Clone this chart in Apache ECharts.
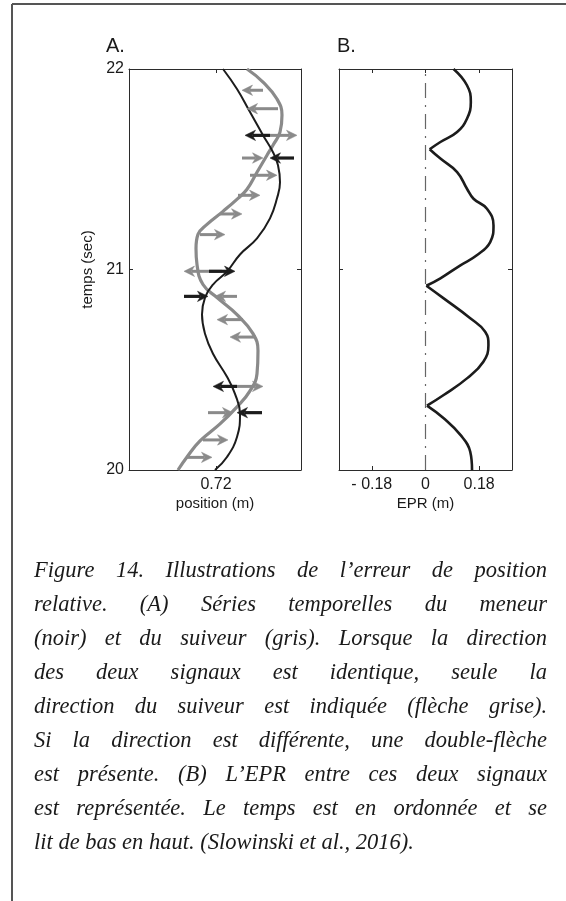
<!DOCTYPE html>
<html><head><meta charset="utf-8">
<script src="https://cdn.jsdelivr.net/npm/echarts@6/dist/echarts.min.js"></script>
<style>html,body{margin:0;padding:0;background:#fff}#chart{width:566px;height:901px}</style>
</head><body><div id="chart"></div>
<script>
// ---- Panel A: leader (black) and follower (gray) positions vs time ----
const leaderTime = [20.0,20.065,20.165,20.28,20.38,20.465,20.58,20.68,20.775,20.86,20.925,20.99,21.075,21.155,21.255,21.355,21.435,21.52,21.585,21.67,21.785,21.9,22.0];
const leaderPos  = [0.719,0.731,0.741,0.744,0.739,0.731,0.717,0.709,0.706,0.709,0.717,0.731,0.744,0.761,0.774,0.781,0.784,0.782,0.777,0.767,0.754,0.741,0.727];
const followerTime = [20.0,20.065,20.145,20.23,20.315,20.395,20.48,20.595,20.68,20.775,20.86,20.925,21.025,21.105,21.175,21.225,21.29,21.355,21.4,21.485,21.57,21.62,21.685,21.77,21.85,21.935,22.0];
const followerPos  = [0.682,0.691,0.704,0.724,0.741,0.754,0.761,0.762,0.757,0.741,0.721,0.707,0.701,0.700,0.702,0.711,0.727,0.742,0.751,0.761,0.771,0.777,0.784,0.786,0.781,0.767,0.751];
// direction arrows: time, start position, end position (head)
const grayArrowTime = [20.063,20.150,20.286,20.417,20.663,20.750,20.866,20.991,21.174,21.277,21.370,21.470,21.556,21.669,21.802,21.894];
const grayArrowFrom = [0.691,0.707,0.712,0.741,0.760,0.747,0.741,0.726,0.704,0.724,0.742,0.754,0.746,0.774,0.782,0.767];
const grayArrowTo   = [0.716,0.732,0.737,0.767,0.734,0.721,0.719,0.688,0.729,0.746,0.764,0.781,0.767,0.801,0.751,0.746];
const blackArrowTime = [20.286,20.417,20.866,20.991,21.556,21.669];
const blackArrowFrom = [0.766,0.741,0.688,0.713,0.798,0.774];
const blackArrowTo   = [0.741,0.717,0.712,0.739,0.774,0.749];
// ---- Panel B: EPR vs time ----
const eprTime  = [20.0,20.091,20.175,20.258,20.321,20.374,20.457,20.54,20.623,20.69,20.757,20.856,20.919,20.956,21.021,21.071,21.137,21.22,21.303,21.353,21.403,21.486,21.553,21.6,21.636,21.686,21.752,21.835,21.919,22.0];
const eprValue = [0.156,0.150,0.117,0.061,0.005,0.061,0.139,0.194,0.211,0.2,0.15,0.061,0.003,0.05,0.117,0.172,0.217,0.228,0.206,0.161,0.139,0.106,0.05,0.014,0.05,0.106,0.139,0.152,0.139,0.094];
const zeroLineTime = [20, 22];
const zeroLineValue = [0, 0];
// ---- ticks / labels ----
const timeTicks = [20,21,22];
const posTicks = [0.72];
const eprTicks = [-0.18,0,0.18];
const eprTickLabels = ['- 0.18','0','0.18'];
const captionLines = [
  "Figure 14. Illustrations de l\u2019erreur de position",
  "relative. (A) S\u00e9ries temporelles du meneur",
  "(noir) et du suiveur (gris). Lorsque la direction",
  "des deux signaux est identique, seule la",
  "direction du suiveur est indiqu\u00e9e (fl\u00e8che grise).",
  "Si la direction est diff\u00e9rente, une double-fl\u00e8che",
  "est pr\u00e9sente. (B) L\u2019EPR entre ces deux signaux",
  "est repr\u00e9sent\u00e9e. Le temps est en ordonn\u00e9e et se",
  "lit de bas en haut. (Slowinski et al., 2016)."
];

const AX = '#2b2b2b', BLACK = '#1c1c1c', GRAY = '#8a8a8a';
const SANS = '"Liberation Sans", Arial, sans-serif';

function arrowRender(color, lw, headLen, headHalf) {
  return function (params, api) {
    const t = api.value(0), a = api.value(1), b = api.value(2);
    const p0 = api.coord([a, t]), p1 = api.coord([b, t]);
    const dir = p1[0] >= p0[0] ? 1 : -1;
    const bx = p1[0] - dir * headLen;
    const nx = p1[0] - dir * headLen * 0.7;
    return {type: 'group', children: [
      {type: 'line', shape: {x1: p0[0], y1: p0[1], x2: nx, y2: p1[1]}, style: {stroke: color, lineWidth: lw}},
      {type: 'polygon', shape: {points: [[p1[0], p1[1]], [bx, p1[1] - headHalf], [nx, p1[1]], [bx, p1[1] + headHalf]]},
       style: {fill: color, stroke: color, lineWidth: 0.5}}
    ]};
  };
}

const tickStyle = {show: true, inside: true, length: 4, lineStyle: {color: AX, width: 1}};
const lineStyleAx = {show: true, onZero: false, lineStyle: {color: AX, width: 1}};
const labelFont = {color: '#1a1a1a', fontSize: 16, fontFamily: SANS};
const nameFont = {color: '#1a1a1a', fontSize: 15, fontFamily: SANS};

const xAxes = [
  {gridIndex: 0, type: 'value', position: 'bottom', min: 0.633, max: 0.805,
   axisLine: lineStyleAx, axisTick: Object.assign({customValues: posTicks}, tickStyle),
   axisLabel: Object.assign({customValues: posTicks, formatter: v => v.toFixed(2), margin: 7}, labelFont),
   splitLine: {show: false}, name: 'position (m)', nameLocation: 'middle', nameGap: 26, nameTextStyle: nameFont},
  {gridIndex: 0, type: 'value', position: 'top', min: 0.633, max: 0.805,
   axisLine: lineStyleAx, axisTick: Object.assign({customValues: posTicks}, tickStyle),
   axisLabel: {show: false}, splitLine: {show: false}},
  {gridIndex: 1, type: 'value', position: 'bottom', min: -0.29, max: 0.29,
   axisLine: lineStyleAx, axisTick: Object.assign({customValues: eprTicks}, tickStyle),
   axisLabel: Object.assign({customValues: eprTicks,
     formatter: v => eprTickLabels[eprTicks.findIndex(e => Math.abs(e - v) < 1e-9)], margin: 7}, labelFont),
   splitLine: {show: false}, name: 'EPR (m)', nameLocation: 'middle', nameGap: 26, nameTextStyle: nameFont},
  {gridIndex: 1, type: 'value', position: 'top', min: -0.29, max: 0.29,
   axisLine: lineStyleAx, axisTick: Object.assign({customValues: eprTicks}, tickStyle),
   axisLabel: {show: false}, splitLine: {show: false}}
];
const yAxes = [
  {gridIndex: 0, type: 'value', position: 'left', min: 20, max: 22, interval: 1,
   axisLine: lineStyleAx, axisTick: Object.assign({customValues: timeTicks}, tickStyle),
   axisLabel: Object.assign({customValues: timeTicks, margin: 5}, labelFont),
   splitLine: {show: false}, name: 'temps (sec)', nameLocation: 'middle', nameGap: 34, nameRotate: 90,
   nameTextStyle: nameFont},
  {gridIndex: 0, type: 'value', position: 'right', min: 20, max: 22, interval: 1,
   axisLine: lineStyleAx, axisTick: Object.assign({customValues: timeTicks}, tickStyle),
   axisLabel: {show: false}, splitLine: {show: false}},
  {gridIndex: 1, type: 'value', position: 'left', min: 20, max: 22, interval: 1,
   axisLine: lineStyleAx, axisTick: Object.assign({customValues: timeTicks}, tickStyle),
   axisLabel: {show: false}, splitLine: {show: false}},
  {gridIndex: 1, type: 'value', position: 'right', min: 20, max: 22, interval: 1,
   axisLine: lineStyleAx, axisTick: Object.assign({customValues: timeTicks}, tickStyle),
   axisLabel: {show: false}, splitLine: {show: false}}
];

// split EPR curve at its cusps (local minima close to zero) so they stay sharp
const eprSegments = [];
let segStart = 0;
for (let i = 1; i < eprValue.length - 1; i++) {
  if (eprValue[i] < eprValue[i - 1] && eprValue[i] < eprValue[i + 1] && eprValue[i] < 0.03) {
    eprSegments.push([segStart, i]); segStart = i;
  }
}
eprSegments.push([segStart, eprValue.length - 1]);

const series = [];
series.push({type: 'line', xAxisIndex: 0, yAxisIndex: 0, smooth: 0.45, showSymbol: false, silent: true,
  data: followerTime.map((t, i) => [followerPos[i], t]), lineStyle: {color: GRAY, width: 3.2}, z: 2});
series.push({type: 'line', xAxisIndex: 0, yAxisIndex: 0, smooth: 0.45, showSymbol: false, silent: true,
  data: leaderTime.map((t, i) => [leaderPos[i], t]), lineStyle: {color: BLACK, width: 2}, z: 3});
series.push({type: 'custom', xAxisIndex: 0, yAxisIndex: 0, coordinateSystem: 'cartesian2d', silent: true,
  renderItem: arrowRender(GRAY, 3, 10.5, 5.2), encode: {x: [1, 2], y: 0},
  data: grayArrowTime.map((t, i) => [t, grayArrowFrom[i], grayArrowTo[i]]), z: 4});
series.push({type: 'custom', xAxisIndex: 0, yAxisIndex: 0, coordinateSystem: 'cartesian2d', silent: true,
  renderItem: arrowRender(BLACK, 3.2, 10.5, 5.2), encode: {x: [1, 2], y: 0},
  data: blackArrowTime.map((t, i) => [t, blackArrowFrom[i], blackArrowTo[i]]), z: 5});
// dash-dot zero reference line in panel B
series.push({type: 'line', xAxisIndex: 2, yAxisIndex: 2, showSymbol: false, silent: true,
  data: zeroLineTime.map((t, i) => [zeroLineValue[i], t]),
  lineStyle: {color: '#666', width: 1.2, type: [15, 7, 2, 7]}, z: 2});
eprSegments.forEach((seg) => {
  const d = [];
  for (let i = seg[0]; i <= seg[1]; i++) d.push([eprValue[i], eprTime[i]]);
  series.push({type: 'line', xAxisIndex: 2, yAxisIndex: 2, smooth: 0.45, showSymbol: false, silent: true,
    data: d, lineStyle: {color: BLACK, width: 2.6}, z: 3});
});

// caption: justified italic serif lines
const capFont = 'italic 22.5px "Liberation Serif", "Times New Roman", serif';
const capLeft = 34, capRight = 547, capTop = 571, capStep = 34;
const mctx = document.createElement('canvas').getContext('2d');
mctx.font = capFont;
const graphics = [];
captionLines.forEach((line, li) => {
  const y = capTop + li * capStep;
  if (li === captionLines.length - 1) {
    graphics.push({type: 'text', x: capLeft, y: y, style: {text: line, font: capFont, fill: '#1a1a1a', verticalAlign: 'middle'}});
    return;
  }
  const words = line.split(' ');
  const widths = words.map(w => mctx.measureText(w).width);
  const total = widths.reduce((a, b) => a + b, 0);
  const gap = (capRight - capLeft - total) / (words.length - 1);
  let x = capLeft;
  words.forEach((w, i) => {
    graphics.push({type: 'text', x: x, y: y, style: {text: w, font: capFont, fill: '#1a1a1a', verticalAlign: 'middle'}});
    x += widths[i] + gap;
  });
});
// panel letters
graphics.push({type: 'text', x: 106, y: 46, style: {text: 'A.', font: '20px ' + SANS, fill: '#1a1a1a', verticalAlign: 'middle'}});
graphics.push({type: 'text', x: 337, y: 46, style: {text: 'B.', font: '20px ' + SANS, fill: '#1a1a1a', verticalAlign: 'middle'}});
// outer frame (top and left edges)
graphics.push({type: 'line', shape: {x1: 12, y1: 4, x2: 566, y2: 4}, style: {stroke: '#555', lineWidth: 2}});
graphics.push({type: 'line', shape: {x1: 12, y1: 4, x2: 12, y2: 901}, style: {stroke: '#555', lineWidth: 2}});

const chart = echarts.init(document.getElementById('chart'), null, {renderer: 'canvas'});
chart.setOption({
  backgroundColor: '#fff',
  animation: false,
  grid: [
    {left: 129, top: 69, width: 172, height: 401},
    {left: 339, top: 69, width: 173, height: 401}
  ],
  xAxis: xAxes,
  yAxis: yAxes,
  series: series,
  graphic: graphics
});
</script>
</body></html>
